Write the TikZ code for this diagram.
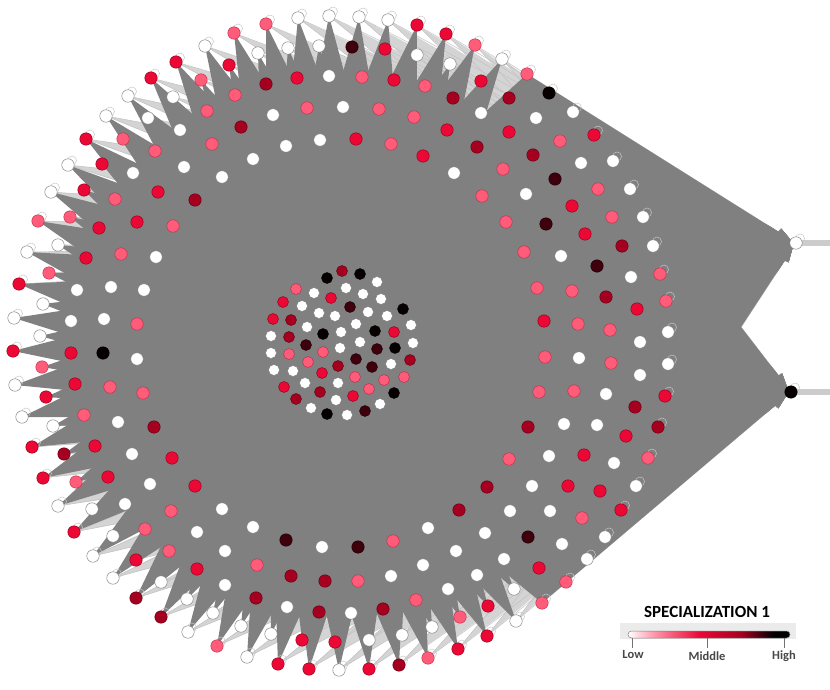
\documentclass[tikz,border=0pt]{standalone}
\usepackage{fontspec}
\setmainfont{Carlito}
\usetikzlibrary{arrows.meta,calc}
\definecolor{cW}{RGB}{255,255,255}\definecolor{oW}{RGB}{120,120,120}
\definecolor{cP}{RGB}{255,92,122}\definecolor{oP}{RGB}{185,45,75}
\definecolor{cR}{RGB}{236,8,52}\definecolor{oR}{RGB}{140,0,28}
\definecolor{cD}{RGB}{165,0,32}\definecolor{oD}{RGB}{95,0,16}
\definecolor{cV}{RGB}{62,0,12}\definecolor{oV}{RGB}{28,0,4}
\definecolor{cK}{RGB}{6,0,0}\definecolor{oK}{RGB}{0,0,0}
\definecolor{cPl}{RGB}{255,150,170}
\pgfdeclarelayer{edges}
\pgfdeclarelayer{mass}
\pgfdeclarelayer{tips}
\pgfsetlayers{edges,mass,tips,main}
\pgfdeclarehorizontalshading{specbar}{100bp}{color(0bp)=(white); color(25bp)=(white); color(33bp)=(cPl); color(47bp)=(cR); color(60bp)=(cD); color(70bp)=(black); color(75bp)=(black); color(100bp)=(black)}
\def\ringlist{549/93/K, 573/112/W, 594/135/R, 613/161/W, 630/189/W, 643/217/W, 653/246/W, 660/274/P, 666/301/P, 668/332/W, 668/364/W, 665/396/R, 658/427/D, 648/458/P, 636/486/W, 621/510/R, 605/537/W, 587/559/W, 566/582/P, 542/603/P, 516/621/W, 487/636/R, 458/649/R, 428/658/P, 399/665/D, 369/669/R, 339/670/W, 309/669/R, 278/664/R, 247/657/W, 217/646/P, 188/632/W, 161/617/D, 136/598/D, 113/578/W, 93/556/W, 74/532/R, 58/506/W, 43/478/R, 32/447/R, 22/417/W, 15/385/W, 13/351/R, 14/318/W, 19/284/R, 27/252/W, 38/221/P, 51/192/W, 68/165/W, 86/139/R, 106/116/W, 128/96/W, 151/78/R, 176/62/R, 205/46/W, 234/33/P, 266/24/P, 298/18/W, 329/16/W, 359/17/W, 388/20/W, 417/25/R, 446/34/R, 475/45/P, 502/59/W, 527/74/P,
509/98/D, 536/118/W, 560/141/P, 581/163/W, 598/189/P, 612/217/P, 622/246/D, 631/277/W, 637/309/R, 640/342/W, 640/375/W, 635/407/D, 626/436/R, 614/463/W, 600/491/R, 582/518/P, 562/544/W, 539/568/R, 514/589/W, 488/606/R, 460/617/P, 432/627/W, 402/635/W, 369/640/W, 335/642/R, 302/640/R, 271/634/W, 241/626/W, 213/613/W, 187/599/W, 161/582/W, 136/560/R, 113/536/W, 92/509/W, 76/482/P, 64/454/D, 53/426/W, 46/397/R, 42/367/P, 40/336/W, 43/304/W, 49/273/P, 58/245/W, 70/217/P, 84/190/R, 102/164/R, 123/139/P, 148/118/W, 173/97/W, 201/80/P, 229/65/R, 258/53/W, 288/48/W, 319/46/W, 352/47/V, 385/49/R, 417/55/W, 450/64/W, 481/81/R,
481/113/W, 509/132/R, 533/155/D, 555/179/V, 572/206/R, 585/234/R, 597/266/V, 606/297/D, 610/330/P, 611/363/P, 606/394/W, 597/425/W, 584/455/R, 568/486/R, 550/511/W, 528/537/V, 504/559/W, 477/575/W, 448/589/W, 416/600/P, 383/609/D, 351/613/W, 319/612/D, 287/607/W, 256/598/D, 225/585/W, 197/569/R, 169/551/P, 145/529/P, 125/504/W, 108/477/R, 95/446/R, 84/415/P, 75/384/R, 71/353/R, 71/321/W, 77/290/W, 86/258/R, 99/228/R, 115/199/P, 133/173/W, 155/151/P, 180/130/W, 207/111/P, 235/95/P, 266/84/D, 297/78/R, 329/76/W, 362/77/P, 394/80/R, 425/86/P, 453/98/D,
447/130/R, 477/147/D, 503/169/P, 526/194/W, 546/224/V, 561/256/W, 572/291/P, 578/324/P, 579/358/W, 574/391/P, 564/424/W, 549/456/W, 532/486/W, 510/511/W, 485/533/W, 456/551/W, 423/565/W, 391/576/W, 358/581/P, 325/581/D, 291/576/D, 257/565/P, 225/551/W, 197/532/W, 171/511/P, 150/484/W, 132/454/W, 118/422/W, 110/387/P, 103/353/K, 104/319/W, 111/287/W, 121/254/P, 137/222/R, 158/192/R, 184/167/W, 212/144/P, 241/127/D, 273/115/W, 307/108/P, 343/107/W, 379/109/P, 414/117/P,
423/156/R, 454/173/W, 482/196/P, 506/222/P, 524/252/P, 537/288/P, 544/321/R, 545/357/P, 539/392/P, 528/427/D, 509/459/P, 487/487/D, 459/510/D, 428/528/W, 393/541/P, 358/547/V, 322/547/W, 286/540/V, 253/527/W, 222/509/W, 195/486/R, 172/458/R, 154/427/D, 143/393/P, 137/359/W, 137/324/P, 144/290/W, 156/257/W, 173/226/P, 195/200/D, 222/177/W, 253/159/W, 286/146/W, 320/140/W, 356/139/R, 391/144/P}
\def\corelist{327/278/K, 342/271/D, 360/274/K, 377/282/W, 296/289/P, 314/293/W, 331/298/R, 346/288/W, 363/294/W, 381/299/W, 283/302/R, 302/306/W, 319/313/W, 335/316/W, 350/307/V, 368/312/W, 387/316/W, 403/309/K, 273/319/R, 291/320/D, 307/327/W, 323/334/K, 341/332/W, 356/324/W, 375/331/K, 394/332/R, 411/325/W, 271/336/W, 289/337/D, 306/345/V, 323/352/P, 340/348/W, 360/342/W, 377/349/V, 395/348/K, 413/343/W, 271/353/W, 289/354/P, 308/362/P, 322/373/R, 338/366/D, 356/359/V, 372/367/V, 391/364/W, 410/360/D, 274/370/W, 293/371/W, 305/383/W, 320/392/D, 338/383/W, 355/377/P, 369/389/P, 384/380/P, 404/377/P, 284/387/R, 296/399/D, 311/408/W, 327/414/K, 336/400/W, 347/415/W, 353/396/R, 365/411/V, 380/404/W, 394/393/K}
\begin{document}
\begin{tikzpicture}[x=1pt,y=-1pt,
  nd/.style={circle,inner sep=0pt,minimum size=12.5pt,line width=0.45pt,fill=c#1,draw=o#1},
  cd/.style={nd=#1,minimum size=11pt},
  ledge/.style={black!24,line width=0.5pt},
  lband/.style={fill=black!17},
  loopc/.style={black!22,line width=0.5pt},
  tipc/.style={gray,line width=0.4pt,-{Stealth[length=14pt,width=9pt]}},
  labl/.style={font=\fontsize{12.5}{14}\selectfont\bfseries,text=black!72}]
\useasboundingbox (0,0) rectangle (830,690);
\coordinate (C) at (341,343);
\coordinate (T) at (793,318);
\coordinate (notch) at (741,327);
\coordinate (e1) at (830,243);
\coordinate (e2) at (830,392);
\node[nd=W] (r1) at (796,243) {};
\node[nd=K] (r2) at (791,392) {};
\foreach \x/\y/\c [count=\i] in \ringlist {
  \node[nd=\c] (a\i) at (\x,\y) {};
}
\foreach \x/\y/\c [count=\i] in \corelist {
  \node[cd=\c] (c\i) at (\x,\y) {};
}
\begin{pgfonlayer}{edges}
  \foreach \x/\y/\c [count=\i] in \ringlist {
    \ifnum\x<530
      \fill[lband] (a\i.center) -- ($(a\i)!110pt!6:(T)$) -- ($(a\i)!110pt!-6:(T)$) -- cycle;
    \fi
  }
  \foreach \x/\y/\c [count=\i] in \ringlist {
    \draw[ledge] (a\i) -- (r1) (a\i) -- (r2);
  }
\end{pgfonlayer}
\begin{pgfonlayer}{mass}
  \foreach \x/\y/\c [count=\i] in \ringlist {
    \fill[gray] (a\i.center) -- ($(C)!76pt!90:(a\i)$) -- ($(C)!76pt!-90:(a\i)$) -- cycle;
  }
  \fill[gray] (C) circle (85);
  \fill[gray] (C) -- (527,74) -- (r1.center) -- (notch) -- (r2.center) -- (542,603) -- cycle;
\end{pgfonlayer}
\begin{pgfonlayer}{tips}
  \foreach \x/\y/\c [count=\i] in \ringlist {
    \draw[tipc] ($(a\i)!0.9!(r1)$) -- (r1);
    \draw[tipc] ($(a\i)!0.9!(r2)$) -- (r2);
    \pgfmathtruncatemacro\isout{veclen(\x-341,\y-343)>315}
    \ifnum\isout=1 \draw[loopc] (\x+4,\y-4.5) circle (4.5); \fi
  }
  \draw[black!20,line width=6pt] (r1) -- (e1);
  \draw[black!20,line width=6pt] (r2) -- (e2);
  \draw[loopc] (800,238.5) circle (4.5);
  \draw[loopc] (795,387.5) circle (4.5);
\end{pgfonlayer}
% legend
\node[font=\fontsize{17}{20}\selectfont\bfseries] (ltitle) at (707,612) {SPECIALIZATION 1};
\fill[black!8] (620,623) rectangle (796,639);
\shadedraw[shading=specbar,draw=black!50,line width=0.5pt,rounded corners=3.5pt] (628,631) rectangle (790,638);
\draw[black!55,line width=0.8pt] (632,638) -- (632,648);
\draw[black!55,line width=0.8pt] (707,638) -- (707,648);
\draw[black!55,line width=0.8pt] (784,638) -- (784,648);
\node[labl] (llow) at (633,654) {Low};
\node[labl] (lmid) at (707,656) {Middle};
\node[labl] (lhigh) at (784,656) {High};
\end{tikzpicture}
\end{document}
